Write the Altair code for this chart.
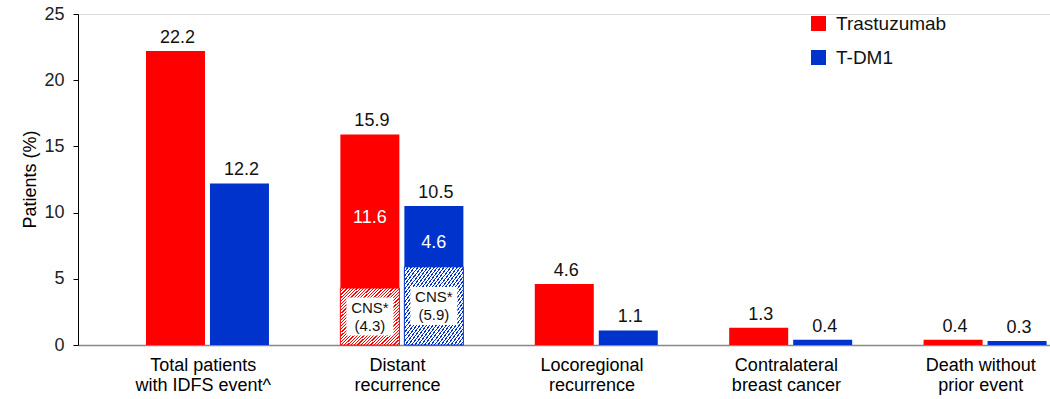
import altair as alt
import pandas as pd

# IDFS events by type, percent of patients
categories = [
    "Total patients|with IDFS event^",
    "Distant|recurrence",
    "Locoregional|recurrence",
    "Contralateral|breast cancer",
    "Death without|prior event",
]
series = ["Trastuzumab", "T-DM1"]
trastuzumab = [22.2, 15.9, 4.6, 1.3, 0.4]
tdm1 = [12.2, 10.5, 1.1, 0.4, 0.3]
# CNS share of distant recurrence
cns_category = "Distant|recurrence"
cns_values = {"Trastuzumab": 4.3, "T-DM1": 5.9}

colors = {"Trastuzumab": "#FF0000", "T-DM1": "#0033CC"}
FONT = "Liberation Sans"

segments, totals, inner, cns_labels = [], [], [], []
for name, vals in zip(series, [trastuzumab, tdm1]):
    for cat, v in zip(categories, vals):
        totals.append({"category": cat, "series": name, "value": v})
        if cat == cns_category:
            c = cns_values[name]
            segments.append({"category": cat, "series": name, "kind": "cns", "low": 0.0, "high": c})
            segments.append({"category": cat, "series": name, "kind": "solid", "low": c, "high": v})
            inner.append({"category": cat, "series": name, "mid": (c + v) / 2, "label": f"{v - c:.1f}"})
            cns_labels.append({"category": cat, "series": name, "mid": c / 2,
                               "line1": "CNS*", "line2": f"({c:.1f})"})
        else:
            segments.append({"category": cat, "series": name, "kind": "solid", "low": 0.0, "high": v})

seg_df = pd.DataFrame(segments)
tot_df = pd.DataFrame(totals)
inner_df = pd.DataFrame(inner)
cns_df = pd.DataFrame(cns_labels)

x_enc = alt.X(
    "category:N",
    sort=categories,
    scale=alt.Scale(paddingInner=0, paddingOuter=0),
    axis=alt.Axis(
        title=None,
        labelExpr="split(datum.label, '|')",
        labelAngle=0,
        labelFont=FONT,
        labelFontSize=18,
        labelColor="#000000",
        labelLineHeight=20,
        labelPadding=11,
        labelOffset=28,
        ticks=False,
        domainColor="#888888",
        domainWidth=1.5,
    ),
)
xoff = alt.XOffset(
    "series:N",
    sort=series,
    scale=alt.Scale(paddingInner=0.078, paddingOuter=0.558, align=0.952),
)
y_scale = alt.Scale(domain=[0, 25], nice=False)


def stripes(color, periods=36, frac=0.38):
    stops = []
    for k in range(periods):
        a = k / periods
        b = (k + frac) / periods
        c = (k + 1) / periods
        stops += [
            alt.GradientStop(offset=a, color=color),
            alt.GradientStop(offset=b, color=color),
            alt.GradientStop(offset=b, color="#ffffff"),
            alt.GradientStop(offset=c, color="#ffffff"),
        ]
    return alt.LinearGradient(gradient="linear", stops=stops, x1=0, y1=0, x2=1, y2=1)


solid = (
    alt.Chart(seg_df)
    .transform_filter(alt.datum.kind == "solid")
    .mark_bar()
    .encode(
        x=x_enc,
        xOffset=xoff,
        y=alt.Y(
            "low:Q",
            scale=y_scale,
            axis=alt.Axis(
                title="Patients (%)",
                values=[0, 5, 10, 15, 20, 25],
                grid=False,
                domainColor="#000000",
                tickColor="#000000",
                tickSize=5,
                labelPadding=9,
                labelFont=FONT,
                labelFontSize=18,
                labelColor="#222222",
                titleFont=FONT,
                titleFontSize=18,
                titleFontWeight="normal",
                titleColor="#000000",
                titleX=-48,
                titleY=165,
                titleBaseline="middle",
            ),
        ),
        y2="high:Q",
        color=alt.Color(
            "series:N",
            sort=series,
            scale=alt.Scale(domain=series, range=[colors[s] for s in series]),
            legend=alt.Legend(
                title=None,
                orient="none",
                legendX=731,
                legendY=0,
                symbolType="square",
                symbolSize=225,
                symbolStrokeWidth=0,
                labelFont=FONT,
                labelFontSize=19,
                labelColor="#111111",
                labelOffset=8,
                rowPadding=14,
            ),
        ),
    )
)

hatch_layers = []
for name in series:
    hatch_layers.append(
        alt.Chart(seg_df)
        .transform_filter((alt.datum.kind == "cns") & (alt.datum.series == name))
        .mark_bar(fill=stripes(colors[name]), stroke=colors[name], strokeWidth=1)
        .encode(x=x_enc, xOffset=xoff, y=alt.Y("low:Q", scale=y_scale), y2="high:Q")
    )

# white label background inside the CNS segments
box = (
    alt.Chart(cns_df)
    .mark_point(
        shape="M-1,-0.81L1,-0.81L1,0.81L-1,0.81Z",
        filled=True,
        fill="#ffffff",
        opacity=1,
        strokeWidth=0,
        size=2209,
    )
    .encode(x=x_enc, xOffset=xoff, y=alt.Y("mid:Q", scale=y_scale))
)

cns_line1 = (
    alt.Chart(cns_df)
    .mark_text(font=FONT, fontSize=15, color="#111111", baseline="middle", dy=-9)
    .encode(x=x_enc, xOffset=xoff, y=alt.Y("mid:Q", scale=y_scale), text="line1:N")
)
cns_line2 = (
    alt.Chart(cns_df)
    .mark_text(font=FONT, fontSize=15, color="#111111", baseline="middle", dy=9)
    .encode(x=x_enc, xOffset=xoff, y=alt.Y("mid:Q", scale=y_scale), text="line2:N")
)

inner_text = (
    alt.Chart(inner_df)
    .mark_text(font=FONT, fontSize=18, color="#ffffff", baseline="middle", dy=7)
    .encode(x=x_enc, xOffset=xoff, y=alt.Y("mid:Q", scale=y_scale), text="label:N")
)

top_text = (
    alt.Chart(tot_df)
    .mark_text(font=FONT, fontSize=18, color="#111111", baseline="bottom", dy=-4, dx=2)
    .encode(
        x=x_enc,
        xOffset=xoff,
        y=alt.Y("value:Q", scale=y_scale),
        text=alt.Text("value:Q", format=".1f"),
    )
)

chart = (
    alt.layer(solid, *hatch_layers, box, cns_line1, cns_line2, inner_text, top_text)
    .properties(
        width=972,
        height=331,
        autosize=alt.AutoSizeParams(type="none"),
        padding={"left": 78, "top": 14, "right": 0, "bottom": 54},
    )
    .configure_view(stroke=None)
    .configure(background="#ffffff")
)

chart.save("out.html", embed_options={"renderer": "svg", "actions": False})
